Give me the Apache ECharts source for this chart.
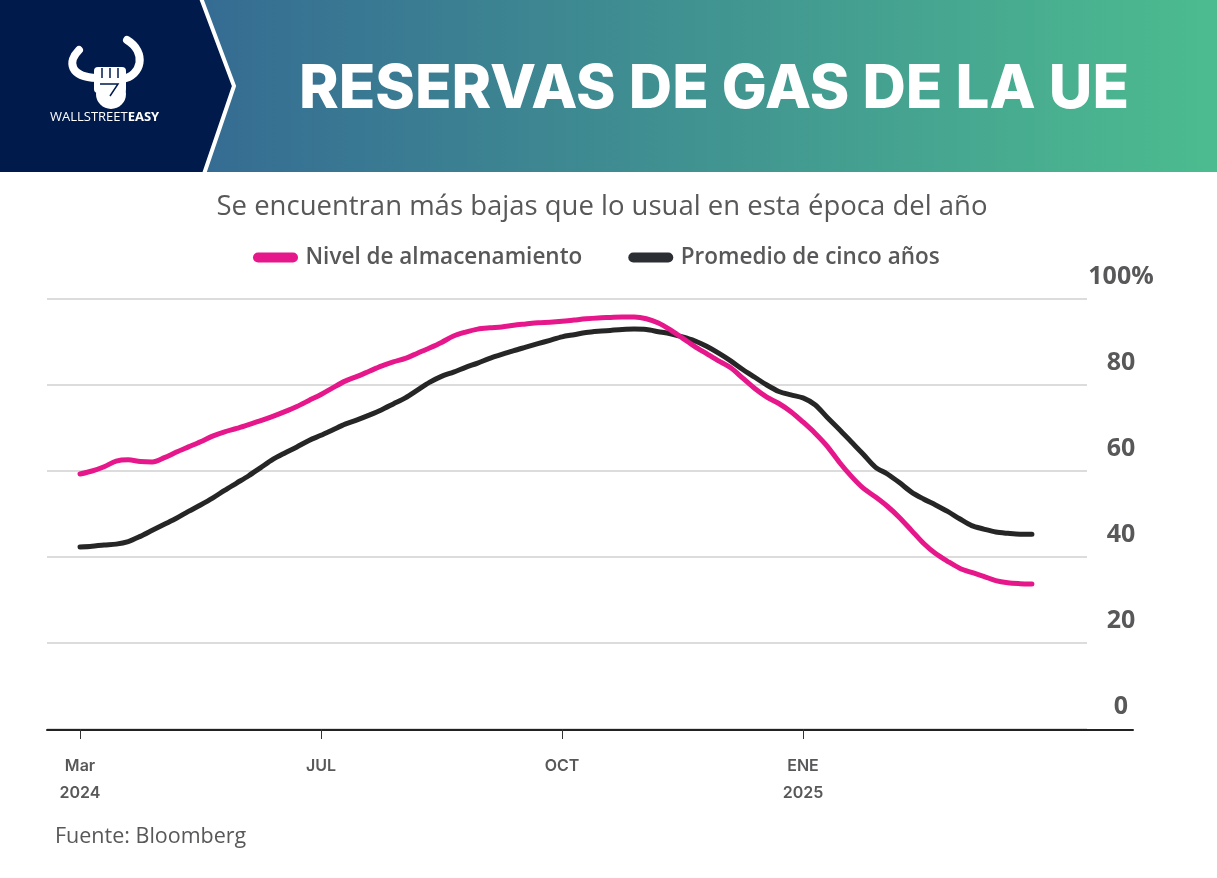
<!DOCTYPE html>
<html>
<head>
<meta charset="utf-8">
<script src="https://cdn.jsdelivr.net/npm/echarts@6/dist/echarts.min.js"></script>
<style>
  html, body { margin: 0; padding: 0; background: #fff; }
  #chart { width: 1217px; height: 878px; }
</style>
</head>
<body>
<div id="chart"></div>
<script>
// weekly-ish points, index 0 = start of Mar 2024
const tickIdx = [0, 20, 40, 60]
const tickNames = ['Mar\n2024', 'JUL', 'OCT', 'ENE\n2025']

const storageLevel = [
  59.3, 60.0, 61.0, 62.3, 62.6, 62.2, 62.1, 63.1, 64.4, 65.6,
  66.8, 68.1, 69.1, 69.9, 70.8, 71.7, 72.7, 73.8, 75.0, 76.4,
  77.8, 79.4, 80.9, 82.0, 83.2, 84.4, 85.4, 86.2, 87.4, 88.6,
  89.9, 91.4, 92.3, 93.0, 93.3, 93.5, 93.9, 94.2, 94.5, 94.6,
  94.8, 95.1, 95.4, 95.6, 95.7, 95.8, 95.8, 95.4, 94.4, 92.8,
  90.9, 89.0, 87.3, 85.6, 84.0, 81.6, 79.2, 77.2, 75.7, 73.8,
  71.4, 68.8, 65.8, 62.1, 58.8, 56.0, 54.0, 51.8, 49.2, 46.2,
  43.2, 40.8, 39.0, 37.4, 36.4, 35.5, 34.5, 34.0, 33.8, 33.7
]

const fiveYearAvg = [
  42.3, 42.5, 42.8, 43.0, 43.6, 44.8, 46.2, 47.6, 49.0, 50.6,
  52.1, 53.7, 55.5, 57.2, 58.9, 60.8, 62.7, 64.2, 65.6, 67.1,
  68.3, 69.6, 70.9, 71.9, 73.0, 74.2, 75.6, 77.0, 78.8, 80.6,
  82.0, 83.0, 84.1, 85.1, 86.2, 87.1, 88.0, 88.8, 89.6, 90.4,
  91.2, 91.7, 92.2, 92.5, 92.7, 92.9, 93.0, 92.9, 92.4, 91.9,
  91.2, 90.3, 89.0, 87.4, 85.6, 83.6, 81.8, 80.0, 78.5, 77.7,
  77.0, 75.4, 72.5, 69.7, 66.8, 63.9, 60.9, 59.3, 57.3, 55.1,
  53.5, 52.1, 50.6, 48.9, 47.3, 46.5, 45.8, 45.5, 45.3, 45.3
]

const PINK = '#e6178b'
const DARK = '#262626'
const GREY = '#58585a'
const NAVY = '#011a4c'

const chart = echarts.init(document.getElementById('chart'))

const capsule = 'path://M5,0 H40 A5,5 0 0 1 40,10 H5 A5,5 0 0 1 5,0 Z'

chart.setOption({
  animation: false,
  backgroundColor: '#fff',
  graphic: [
    // header band
    {
      type: 'rect', z: 0,
      shape: { x: 0, y: 0, width: 1217, height: 172 },
      style: {
        fill: new echarts.graphic.LinearGradient(0, 0, 1, 0, [
          { offset: 0.15, color: '#356a93' },
          { offset: 1, color: '#4cbc8f' }
        ])
      }
    },
    {
      type: 'polygon', z: 1,
      shape: { points: [[0, 0], [201, 0], [234, 86], [204, 172], [0, 172]] },
      style: { fill: NAVY }
    },
    {
      type: 'polyline', z: 2,
      shape: { points: [[201, -2], [234, 86], [204, 174]] },
      style: { stroke: '#fff', lineWidth: 4, fill: null }
    },
    // logo
    {
      type: 'bezierCurve', z: 3,
      shape: { x1: 79, y1: 50, cpx1: 67, cpy1: 62, cpx2: 70, cpy2: 77, x2: 97, y2: 78 },
      style: { stroke: '#fff', lineWidth: 8, fill: null, lineCap: 'round' }
    },
    {
      type: 'bezierCurve', z: 3,
      shape: { x1: 127, y1: 40, cpx1: 147, cpy1: 52, cpx2: 142, cpy2: 76, x2: 122, y2: 79 },
      style: { stroke: '#fff', lineWidth: 8, fill: null, lineCap: 'round' }
    },
    { type: 'rect', z: 3, shape: { x: 94, y: 67, width: 32, height: 26, r: 4 }, style: { fill: '#fff' } },
    { type: 'circle', z: 3, shape: { cx: 111, cy: 94, r: 15 }, style: { fill: '#fff' } },
    { type: 'line', z: 4, shape: { x1: 102, y1: 68, x2: 102, y2: 78 }, style: { stroke: NAVY, lineWidth: 1.5 } },
    { type: 'line', z: 4, shape: { x1: 110, y1: 68, x2: 110, y2: 78 }, style: { stroke: NAVY, lineWidth: 1.5 } },
    { type: 'line', z: 4, shape: { x1: 118, y1: 68, x2: 118, y2: 78 }, style: { stroke: NAVY, lineWidth: 1.5 } },
    {
      type: 'polyline', z: 4,
      shape: { points: [[100, 84], [118, 84], [110, 96]] },
      style: { stroke: NAVY, lineWidth: 1.5, fill: null }
    },
    {
      type: 'text', z: 3, x: 50, y: 117,
      style: {
        text: '{a|WALLSTREET}{b|EASY}',
        textVerticalAlign: 'middle',
        rich: {
          a: { fill: '#fff', font: '400 13px "Open Sans"' },
          b: { fill: '#fff', font: '700 13px "Open Sans"' }
        }
      }
    },
    {
      type: 'text', z: 3, x: 714, y: 90,
      style: {
        text: 'RESERVAS DE GAS DE LA UE',
        fill: '#fff', font: '800 60px Inter',
        textAlign: 'center', textVerticalAlign: 'middle'
      }
    },
    {
      type: 'text', x: 602, y: 207,
      style: {
        text: 'Se encuentran más bajas que lo usual en esta época del año',
        fill: GREY, font: '400 27.5px "Open Sans"',
        textAlign: 'center', textVerticalAlign: 'middle'
      }
    },
    {
      type: 'text', x: 55, y: 837,
      style: {
        text: 'Fuente: Bloomberg',
        fill: GREY, font: '400 21.5px "Open Sans"',
        textVerticalAlign: 'middle'
      }
    }
  ],
  legend: {
    top: 241,
    left: 248,
    itemWidth: 46,
    itemHeight: 10,
    itemGap: 46,
    textStyle: { color: GREY, fontSize: 22.5, fontWeight: 600, fontFamily: 'Open Sans', padding: [0, 0, 0, 2] },
    data: [
      { name: 'Nivel de almacenamiento', icon: capsule, itemStyle: { color: PINK } },
      { name: 'Promedio de cinco años', icon: capsule, itemStyle: { color: '#2b2e33' } }
    ]
  },
  grid: [
    { left: 47, right: 130, top: 299, bottom: 149 },
    { left: 47, right: 84, top: 299, bottom: 148 }
  ],
  xAxis: [
    {
      type: 'value', gridIndex: 0,
      min: -2.74, max: 83.57,
      splitLine: { show: false },
      axisLine: { show: false },
      axisTick: {
        show: true, customValues: tickIdx, length: 10, inside: false,
        lineStyle: { color: '#333', width: 1 }
      },
      axisLabel: {
        show: true, customValues: tickIdx,
        formatter: v => tickNames[tickIdx.indexOf(Math.round(v))] || '',
        color: GREY, fontSize: 16, fontWeight: 600, fontFamily: 'Inter',
        lineHeight: 27, margin: 24
      }
    },
    {
      type: 'value', gridIndex: 1, min: 0, max: 1,
      axisLine: { show: true, lineStyle: { color: '#222', width: 2 } },
      axisTick: { show: false }, axisLabel: { show: false }, splitLine: { show: false }
    }
  ],
  yAxis: [
    {
      type: 'value', gridIndex: 0, position: 'right',
      min: 0, max: 100, interval: 20,
      axisLine: { show: false }, axisTick: { show: false },
      splitLine: { show: true, lineStyle: { color: '#dcdcdc', width: 2 } },
      axisLabel: {
        margin: 34, align: 'center', verticalAlign: 'bottom',
        padding: [0, 0, 10, 0],
        formatter: v => v === 100 ? '100%' : String(v),
        color: GREY, fontSize: 25, fontWeight: 700, fontFamily: 'Open Sans'
      }
    },
    {
      type: 'value', gridIndex: 1, show: false, min: 0, max: 1
    }
  ],
  series: [
    {
      name: 'Nivel de almacenamiento', type: 'line',
      xAxisIndex: 0, yAxisIndex: 0,
      data: storageLevel.map((v, i) => [i, v]),
      showSymbol: false, smooth: 0.3, z: 3,
      lineStyle: { color: PINK, width: 5, cap: 'round', join: 'round' },
      itemStyle: { color: PINK }
    },
    {
      name: 'Promedio de cinco años', type: 'line',
      xAxisIndex: 0, yAxisIndex: 0,
      data: fiveYearAvg.map((v, i) => [i, v]),
      showSymbol: false, smooth: 0.3, z: 2,
      lineStyle: { color: DARK, width: 5, cap: 'round', join: 'round' },
      itemStyle: { color: DARK }
    }
  ]
})
</script>
</body>
</html>
